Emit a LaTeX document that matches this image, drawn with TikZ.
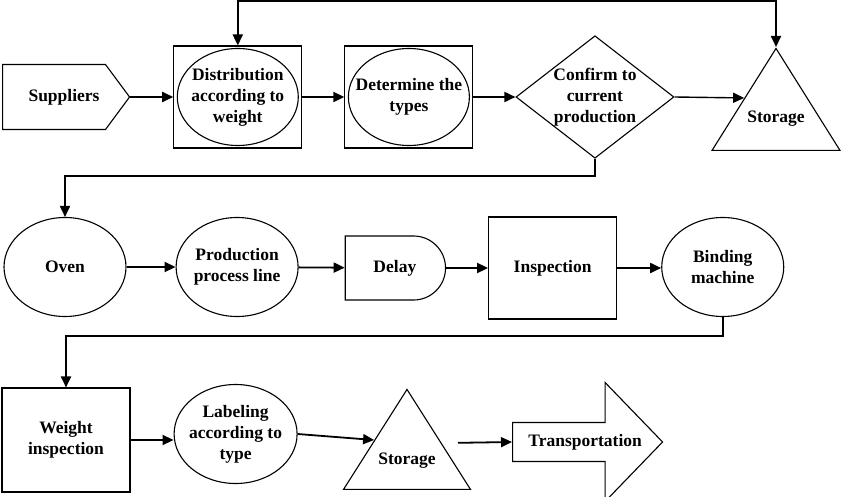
\documentclass[tikz,border=0pt]{standalone}
\usepackage{fontspec}
\setmainfont{Liberation Serif}
\usetikzlibrary{%
  shapes.geometric, shapes.misc, shapes.symbols, shapes.arrows,
  arrows.meta, positioning, calc
}

\begin{document}
\begin{tikzpicture}[%
    x=1pt, y=-1pt,
    >={Triangle[length=11pt,width=10pt]},
    every node/.style={%
      font=\bfseries\fontsize{17.5}{21}\selectfont,
      align=center,
      line width=1.1pt
    },
    conn/.style={->, line width=1.8pt},
    boxed/.style={draw, rectangle, minimum width=128pt, minimum height=102pt},
    proc/.style={draw, ellipse, minimum width=122pt, minimum height=99pt,
      inner xsep=-12pt, inner ysep=0pt},
    decide/.style={draw, diamond, aspect=1.29, minimum width=157pt,
      minimum height=122pt, inner sep=0pt},
    store/.style={draw, isosceles triangle, isosceles triangle stretches,
      shape border rotate=90, minimum width=128pt, minimum height=102pt,
      inner sep=0pt}
  ]
  \useasboundingbox (0,0) rectangle (850,497);

  % first row
  \node[draw, signal, signal to=east, signal pointer angle=107,
    minimum width=127pt, minimum height=65pt, anchor=west] (supp) at (2,97)
    {\hspace*{20pt}Suppliers};
  \node[boxed, right=43pt of supp] (distbox) {};
  \node[proc, minimum width=121pt, minimum height=97pt] (dist) at (distbox)
    {Distribution\\according to\\weight};
  \node[boxed, right=42pt of distbox] (detbox) {};
  \node[proc, minimum width=121pt, minimum height=97pt] (det) at (detbox)
    {Determine the\\types};
  \node[decide, right=42pt of detbox] (conf) {Confirm to\\current\\production};
  \node[store, anchor=apex] (stor1) at (776,47)
    {\raisebox{10pt}[\height][\depth]{Storage}};

  % second row
  \node[proc] (oven) at (65,267) {Oven};
  \node[proc, right=49pt of oven] (prod) {Production\\process line};
  \node[draw, rounded rectangle, rounded rectangle left arc=none,
    minimum width=107pt, minimum height=64pt, right=46pt of prod, yshift=-1pt]
    (delay) {Delay};
  \node[boxed, right=42pt of delay] (insp) {Inspection};
  \node[proc, right=44pt of insp, yshift=1pt] (bind) {Binding\\machine};

  % third row
  \node[boxed, minimum height=104pt] (wt) at (66,440) {Weight\\inspection};
  \node[proc, minimum width=123pt, right=43pt of wt, yshift=6pt] (lab)
    {Labeling\\according to\\type};
  \node[store, anchor=apex, minimum width=127pt, minimum height=100pt]
    (stor2) at (407,388) {\raisebox{7pt}[\height][\depth]{Storage}};
  \node[draw, single arrow, single arrow head extend=40pt,
    single arrow tip angle=92, single arrow head indent=0pt,
    minimum height=150pt, inner xsep=0pt, inner ysep=11pt, anchor=tail]
    (trans) at (512,442) {\hspace*{14pt}Transportation};

  % connectors
  \coordinate (top) at (0,1);
  \draw[<->, line width=1.8pt] (distbox.north) -- (distbox.north |- top)
    -| (stor1.apex);
  \draw[conn] (supp) -- (distbox);
  \draw[conn] (distbox) -- (detbox);
  \draw[conn] (detbox) -- (conf);
  \draw[conn, line width=1.4pt] (conf.east)
    -- ($(stor1.apex)!0.49!(stor1.left corner)$);
  \draw[conn] (conf.south) -- ++(0,17) -| (oven.north);
  \draw[conn] (oven) -- (prod);
  \draw[conn] (prod) -- (delay);
  \draw[conn] (delay) -- (insp);
  \draw[conn] (insp.east) -- (insp.east -| bind.west);
  \draw[conn] (bind.south) -- ++(0,19) -| (wt.north);
  \draw[conn] (wt.east) -- (wt.east -| lab.west);
  \draw[conn] (lab.east) -- ($(stor2.apex)!0.51!(stor2.left corner)$);
  \draw[conn, shorten <=16pt] ($(stor2.apex)!0.54!(stor2.right corner)$)
    -- (trans.tail);

\end{tikzpicture}
\end{document}
